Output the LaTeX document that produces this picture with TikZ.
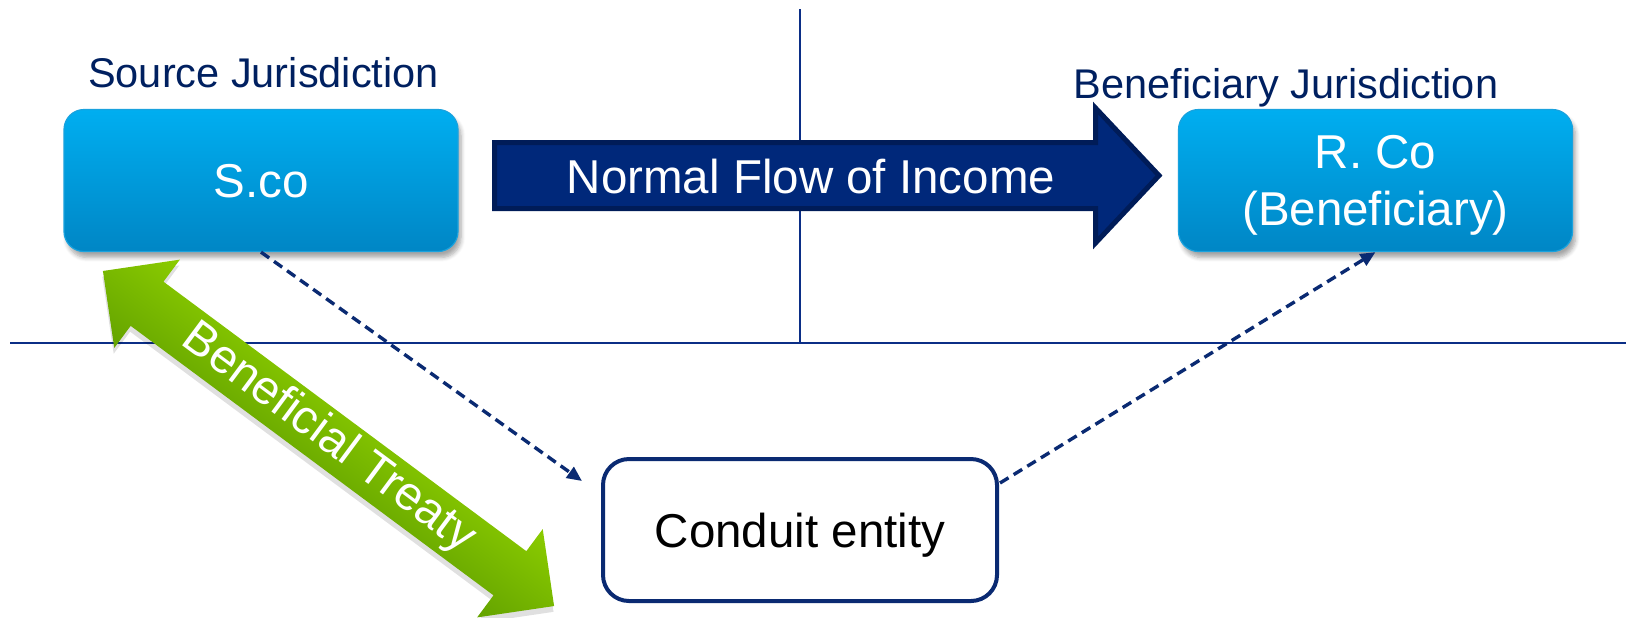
\documentclass[tikz,border=0pt]{standalone}
\usepackage{fontspec}
\setmainfont{Liberation Sans}
\usetikzlibrary{arrows.meta,shadows.blur}

\definecolor{navy}{HTML}{002060}
\definecolor{rulecol}{HTML}{0B2E86}
\definecolor{flowfill}{HTML}{00287A}
\definecolor{flowedge}{HTML}{001C58}
\definecolor{boxtop}{HTML}{00AEF0}
\definecolor{boxbot}{HTML}{0086C5}
\definecolor{boxedge}{HTML}{19A2DE}
\definecolor{greenL}{HTML}{8BCC00}
\definecolor{greenD}{HTML}{64A300}
\definecolor{linkcol}{HTML}{0A2A72}

\tikzset{
  bigfont/.style={font=\fontsize{23.75}{28.5}\selectfont},
  titlefont/.style={font=\fontsize{20.75}{25}\selectfont},
  bluebox/.style={bigfont, rounded corners=10pt, draw=boxedge, line width=0.6pt,
    top color=boxtop, bottom color=boxbot, text=white, align=center,
    minimum width=197pt, minimum height=71pt, inner sep=0pt, text depth=0pt,
    blur shadow={shadow xshift=1.5pt, shadow yshift=-3pt,
      shadow opacity=35, shadow blur steps=6}},
  conduitbox/.style={bigfont, rounded corners=13pt, draw=linkcol, line width=2pt,
    fill=white, text=black, minimum width=197pt, minimum height=71pt,
    inner sep=0pt, text depth=0pt},
  jurisdiction/.style={titlefont, text=navy, anchor=base, inner sep=0pt},
  divider/.style={draw=rulecol, line width=1pt},
  link/.style={draw=linkcol, line width=1.7pt, dash pattern=on 5pt off 3pt,
    -{Triangle[length=7.5pt,width=6.5pt]}},
}

\begin{document}
\begin{tikzpicture}[x=0.5pt, y=-0.5pt]
  \path[use as bounding box] (0,0) rectangle (1631,617);

  % dividers between the jurisdictions
  \coordinate (vtop) at (800,9);
  \coordinate (vbot) at (800,343);
  \coordinate (hleft) at (10,343);
  \coordinate (hright) at (1626,343);
  \draw[divider] (vtop) -- (vbot);
  \draw[divider] (hleft) -- (hright);

  % jurisdiction headings
  \node[jurisdiction] (srcjur) at (263.5,87) {Source Jurisdiction};
  \node[jurisdiction] (benjur) at (1286,98) {Beneficiary Jurisdiction};

  % companies
  \node[bluebox] (sco) at (261,180.5) {S.co};
  \node[bluebox] (rco) at (1375.5,180.5) {R. Co\\(Beneficiary)};
  \node[conduitbox] (conduit) at (800,530) {Conduit entity};

  % normal flow of income
  \filldraw[fill=flowfill, draw=flowedge, line width=2.5pt, line join=miter]
    (494.5,142.5) -- (1095.5,142.5) -- (1095.5,108) -- (1159,175.5)
    -- (1095.5,243) -- (1095.5,208.5) -- (494.5,208.5) -- cycle;
  \node[bigfont, text=white] (flow) at (811,176.5) {Normal Flow of Income};

  % beneficial treaty double arrow
  \begin{scope}[transform canvas={shift={(328.5,438.5)}, rotate=-36.6}]
    \fill[black, opacity=0.12, shift={(3,5)}]
      (-281,0) -- (-226,-55) -- (-226,-27.5) -- (226,-27.5) -- (226,-55)
      -- (281,0) -- (226,55) -- (226,27.5) -- (-226,27.5) -- (-226,55) -- cycle;
    \shade[top color=greenL, bottom color=greenD]
      (-281,0) -- (-226,-55) -- (-226,-27.5) -- (226,-27.5) -- (226,-55)
      -- (281,0) -- (226,55) -- (226,27.5) -- (-226,27.5) -- (-226,55) -- cycle;
  \end{scope}
  \node[bigfont, text=white, inner sep=0pt, rotate=-36.6] (treaty)
    at (328.5,438.5) {Beneficial Treaty};

  % routing through the conduit
  \coordinate (intoconduit) at (582,481);
  \coordinate (outofconduit) at (1000,483);
  \draw[link] (sco.south) -- (intoconduit);
  \draw[link] (outofconduit) -- (rco.south);
\end{tikzpicture}
\end{document}
